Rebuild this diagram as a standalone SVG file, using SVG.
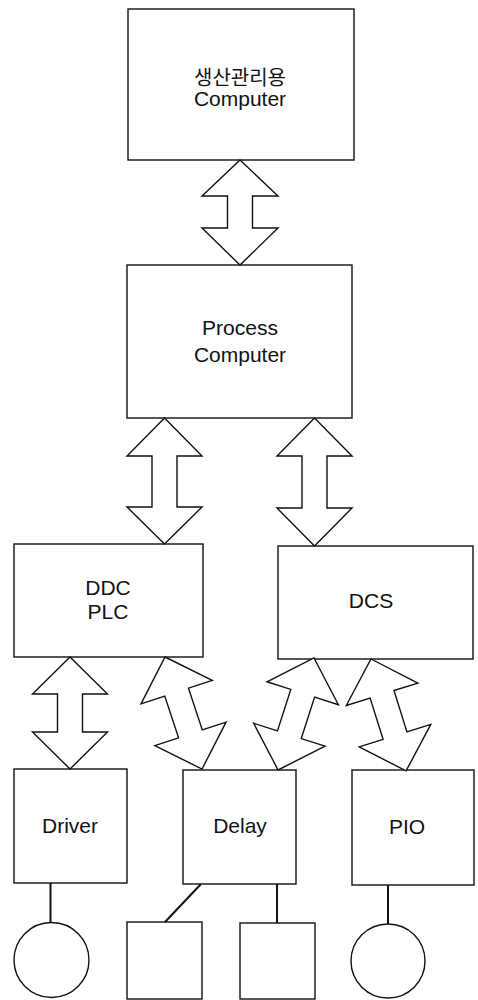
<svg xmlns="http://www.w3.org/2000/svg" width="478" height="1000" viewBox="0 0 478 1000">
  <style>
    .box { fill: #fff; stroke: #111; stroke-width: 1.4; }
    .arrow { fill: #fff; stroke: #111; stroke-width: 1.4; stroke-linejoin: miter; }
    .wire { fill: none; stroke: #111; stroke-width: 2; }
    .label { font-family: "Liberation Sans", Arial, "Noto Sans CJK KR", sans-serif; font-size: 21px; fill: #111; text-anchor: middle; }
    .ko { font-size: 20px; }
  </style>
  <rect width="478" height="1000" fill="#fff"/>

  <!-- nodes -->
  <g id="mgmt-computer">
    <rect class="box" x="128" y="9" width="226" height="151"/>
    <text class="label ko" x="240" y="85">생산관리용</text>
    <text class="label" x="240" y="106">Computer</text>
  </g>
  <g id="process-computer">
    <rect class="box" x="127" y="265" width="225" height="153"/>
    <text class="label" x="240" y="335">Process</text>
    <text class="label" x="240" y="362">Computer</text>
  </g>
  <g id="ddc-plc">
    <rect class="box" x="14" y="544" width="189" height="113"/>
    <text class="label" x="108" y="595">DDC</text>
    <text class="label" x="108" y="619">PLC</text>
  </g>
  <g id="dcs">
    <rect class="box" x="278" y="546" width="195" height="113"/>
    <text class="label" x="371" y="608">DCS</text>
  </g>
  <g id="driver">
    <rect class="box" x="14" y="769" width="113" height="114"/>
    <text class="label" x="70" y="833">Driver</text>
  </g>
  <g id="delay">
    <rect class="box" x="183" y="770" width="113" height="114"/>
    <text class="label" x="240" y="833">Delay</text>
  </g>
  <g id="pio">
    <rect class="box" x="352" y="770" width="122" height="115"/>
    <text class="label" x="407" y="834">PIO</text>
  </g>
  <g id="motor-1">
    <circle class="box" cx="51.5" cy="960" r="37.5"/>
  </g>
  <g id="device-1">
    <rect class="box" x="127" y="922" width="75" height="77"/>
  </g>
  <g id="device-2">
    <rect class="box" x="240" y="923" width="75" height="76"/>
  </g>
  <g id="motor-2">
    <circle class="box" cx="388" cy="961" r="37"/>
  </g>

  <!-- connectors: double-headed block arrows and field wiring -->
  <g id="connectors">
    <!-- vertical double arrows -->
    <polygon class="arrow" points="240,160 278,196 252.5,196 252.5,228 278,228 240,265 202,228 227.5,228 227.5,196 202,196"/>
    <polygon class="arrow" points="164.5,418 202,456 177,456 177,507 202,507 164.5,544 127,507 152,507 152,456 127,456"/>
    <polygon class="arrow" points="314.5,418 352,456 327,456 327,508 352,508 314.5,546 277,508 302,508 302,456 277,456"/>
    <polygon class="arrow" points="70,657 107.5,694 82.5,694 82.5,732 107.5,732 70,769 32.5,732 57.5,732 57.5,694 32.5,694"/>

    <!-- slanted double arrows (local axis along +y) -->
    <polygon class="arrow" transform="translate(165,657) rotate(-18.3)" points="0,0 37.5,37 12.5,37 12.5,81 37.5,81 0,118 -37.5,81 -12.5,81 -12.5,37 -37.5,37"/>
    <polygon class="arrow" transform="translate(314,658) rotate(17.8)" points="0,0 37.5,37 12.5,37 12.5,80.6 37.5,80.6 0,117.6 -37.5,80.6 -12.5,80.6 -12.5,37 -37.5,37"/>
    <polygon class="arrow" transform="translate(371,659) rotate(-17.4)" points="0,0 37.5,37 12.5,37 12.5,80.3 37.5,80.3 0,117.3 -37.5,80.3 -12.5,80.3 -12.5,37 -37.5,37"/>

    <!-- field wiring -->
    <line class="wire" x1="50.5" y1="883" x2="50.5" y2="922.5"/>
    <line class="wire" x1="201" y1="884" x2="165" y2="922"/>
    <line class="wire" x1="277" y1="884" x2="277" y2="923"/>
    <line class="wire" x1="388" y1="885" x2="388" y2="924"/>
  </g>
</svg>
